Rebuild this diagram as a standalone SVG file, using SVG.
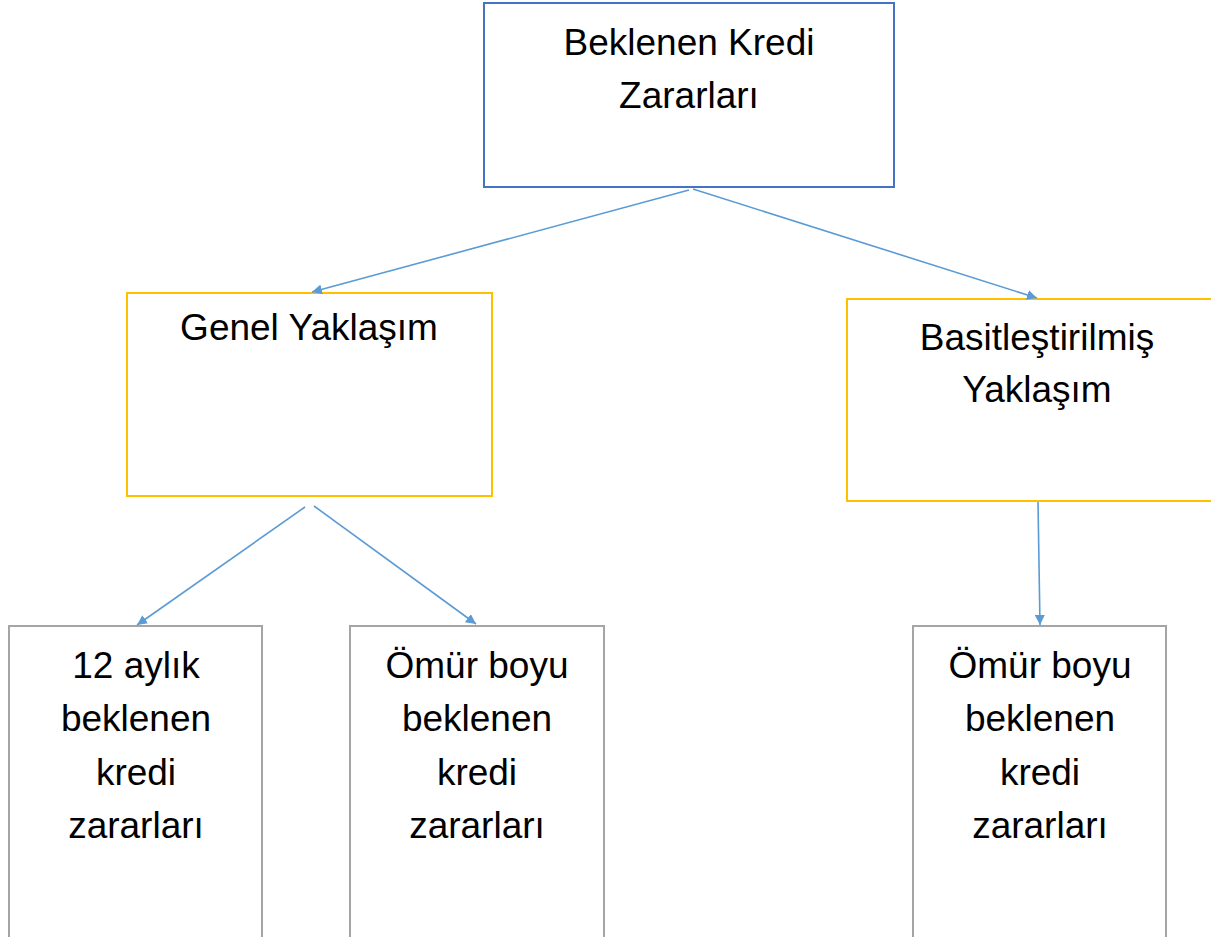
<svg xmlns="http://www.w3.org/2000/svg" width="1211" height="937" viewBox="0 0 1211 937">
<style>
.box{fill:#fff;stroke-width:2}
.blue{stroke:#4472C4}
.yellow{stroke:#FFC000}
.gray{stroke:#A5A5A5}
.lbl{font-family:"Liberation Sans",Arial,sans-serif;font-size:37px;fill:#000;text-anchor:middle}
.conn{stroke:#5B9BD5;stroke-width:1.6;fill:none;marker-end:url(#arr)}
</style>
<defs>
<marker id="arr" viewBox="0 0 10 10" refX="10" refY="5" markerWidth="10" markerHeight="10" markerUnits="userSpaceOnUse" orient="auto">
<path d="M0,0 L10,5 L0,10 z" fill="#5B9BD5"/>
</marker>
</defs>
<rect width="1211" height="937" fill="#fff"/>
<g id="node-top">
<rect class="box blue" x="484" y="3" width="410" height="184"/>
<text class="lbl" x="689" y="55">Beklenen Kredi</text>
<text class="lbl" x="689" y="108">Zararları</text>
</g>
<g id="node-genel">
<rect class="box yellow" x="127" y="293" width="365" height="203"/>
<text class="lbl" x="309" y="340">Genel Yaklaşım</text>
</g>
<g id="node-basit">
<rect class="box yellow" x="847" y="299" width="380" height="202"/>
<text class="lbl" x="1037" y="350">Basitleştirilmiş</text>
<text class="lbl" x="1037" y="402">Yaklaşım</text>
</g>
<g id="node-12aylik">
<rect class="box gray" x="9" y="626" width="253" height="320"/>
<text class="lbl" x="136" y="678">12 aylık</text>
<text class="lbl" x="136" y="731">beklenen</text>
<text class="lbl" x="136" y="785">kredi</text>
<text class="lbl" x="136" y="838">zararları</text>
</g>
<g id="node-omur1">
<rect class="box gray" x="350" y="626" width="254" height="320"/>
<text class="lbl" x="477" y="678">Ömür boyu</text>
<text class="lbl" x="477" y="731">beklenen</text>
<text class="lbl" x="477" y="785">kredi</text>
<text class="lbl" x="477" y="838">zararları</text>
</g>
<g id="node-omur2">
<rect class="box gray" x="913" y="626" width="253" height="320"/>
<text class="lbl" x="1040" y="678">Ömür boyu</text>
<text class="lbl" x="1040" y="731">beklenen</text>
<text class="lbl" x="1040" y="785">kredi</text>
<text class="lbl" x="1040" y="838">zararları</text>
</g>
<g id="connectors">
<line class="conn" x1="689" y1="190" x2="312" y2="292"/>
<line class="conn" x1="693" y1="189" x2="1037" y2="298"/>
<line class="conn" x1="305" y1="507" x2="137" y2="625"/>
<line class="conn" x1="314" y1="506" x2="476" y2="624"/>
<line class="conn" x1="1038" y1="502" x2="1040" y2="625"/>
</g>
</svg>
